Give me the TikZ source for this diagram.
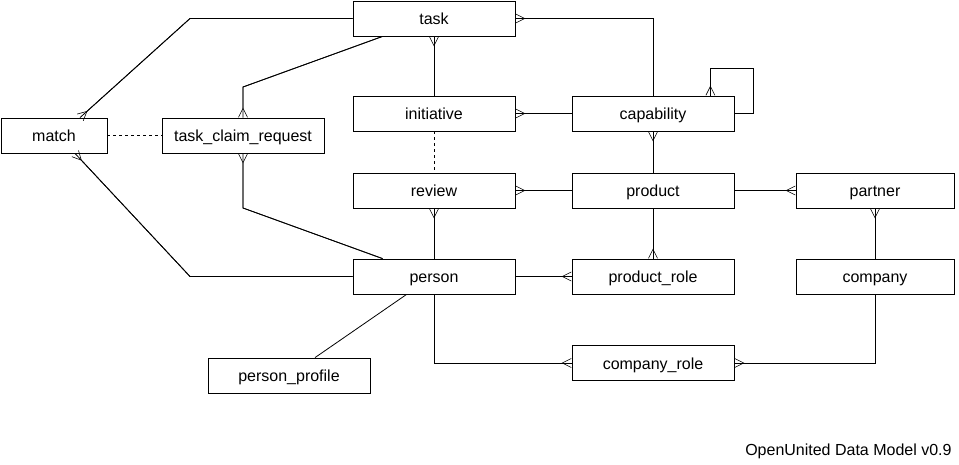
\documentclass[tikz,border=0pt]{standalone}
\usepackage{fontspec}
\setmainfont{Liberation Sans}
\usetikzlibrary{arrows.meta}
\tikzset{
  entity/.style={draw, line width=0.8pt, minimum width=162pt, minimum height=35pt, inner sep=0pt, text height=12pt, text depth=0pt, font=\fontsize{16}{19}\selectfont},
  crow/.tip={Straight Barb[reversed, length=9pt, width=9pt, line width=0.6pt]},
  many/.style={-crow, postaction={draw, -}},
  manystart/.style={crow-, postaction={draw, -}},
}

\begin{document}
\begin{tikzpicture}[x=1pt, y=-1pt, line width=0.8pt]
      \useasboundingbox (0,0) rectangle (959,464);
      \node[entity] (task)         at (434,18.5)  {task};
      \node[entity, minimum width=106pt] (match) at (54,135.5) {match};
      \node[entity] (claim)        at (243,135.5) {task\_claim\_request};
      \node[entity] (initiative)   at (434,113.5) {initiative};
      \node[entity] (capability)   at (653,113.5) {capability};
      \node[entity] (review)       at (434,190.5) {review};
      \node[entity] (product)      at (653,190.5) {product};
      \node[entity, minimum width=158pt] (partner) at (875,190.5) {partner};
      \node[entity] (person)       at (434,276.5) {person};
      \node[entity] (productrole)  at (653,276.5) {product\_role};
      \node[entity, minimum width=158pt] (company) at (875,276.5) {company};
      \node[entity] (companyrole)  at (653,363)   {company\_role};
      \node[entity] (profile)      at (289,375.5) {person\_profile};
      \node[anchor=base east, inner sep=0pt, font=\fontsize{16}{19}\selectfont] (title) at (952,455) {OpenUnited Data Model v0.9};

      \draw[many] (task.west) -- (190,18.5) -- ([xshift=26pt]match.north);
      \draw[many] (person.west) -- (190,276.5) -- ([xshift=21pt]match.south);
      \draw[many] ([xshift=30pt]task.south west) -- (243,87) -- (claim.north);
      \draw[many] ([xshift=30pt]person.north west) -- (243,208) -- (claim.south);
      \draw[dashed] (match.east) -- (claim.west);
      \draw[many] (initiative.north) -- (task.south);
      \draw[dashed] (initiative.south) -- (review.north);
      \draw[many] (person.north) -- (review.south);
      \draw ([xshift=54pt]person.south west) -- ([xshift=26pt]profile.north);
      \draw[many] (person.south) |- (companyrole.west);
      \draw[many] (person.east) -- (productrole.west);
      \draw[many] (product.south) -- (productrole.north);
      \draw[many] (product.west) -- (review.east);
      \draw[many] (capability.west) -- (initiative.east);
      \draw[manystart] (task.east) -| (capability.north);
      \draw[many] (capability.east) -- ++(19,0) -- ++(0,-45) -| ([xshift=-24pt]capability.north east);
      \draw[many] (product.north) -- (capability.south);
      \draw[many] (product.east) -- (partner.west);
      \draw[many] (company.north) -- (partner.south);
      \draw[many] (company.south) |- (companyrole.east);
\end{tikzpicture}
\end{document}
